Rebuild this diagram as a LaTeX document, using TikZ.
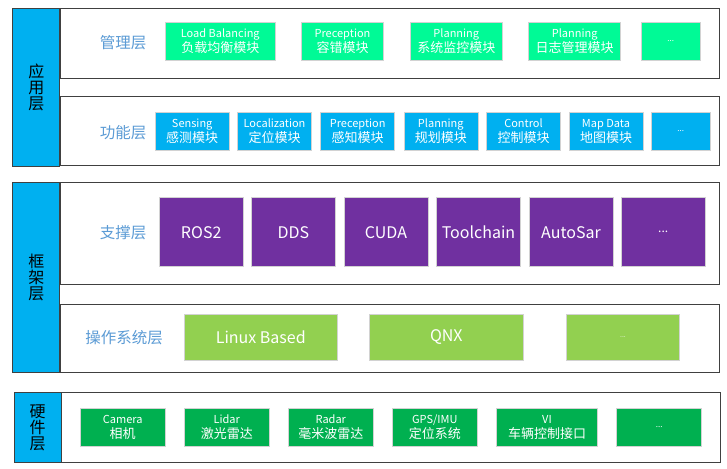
\documentclass[tikz,border=0pt]{standalone}
\usepackage{fontspec}
\setmainfont{Noto Sans CJK SC}
\usepackage{tikz}
\usetikzlibrary{positioning}
\definecolor{skyblue}{RGB}{0, 176, 240}
\definecolor{mintgreen}{RGB}{0, 250, 150}
\definecolor{royalpurple}{RGB}{112, 48, 160}
\definecolor{limegreen}{RGB}{146, 208, 80}
\definecolor{leafgreen}{RGB}{0, 176, 80}
\definecolor{labelblue}{RGB}{91, 155, 213}
\definecolor{frameline}{RGB}{64, 64, 64}
\newcommand{\cnline}[1]{{\fontsize{13}{16}\selectfont #1}}
\tikzset{
  layerbox/.style={draw=frameline, line width=1pt, fill=white, inner sep=0pt},
  sidebar/.style={draw=frameline, line width=1pt, fill=skyblue, inner sep=0pt,
    minimum width=47pt, align=center, font=\fontsize{16}{16}\selectfont},
  layerlabel/.style={text=labelblue, font=\fontsize{15.5}{16}\selectfont},
  module/.style={draw=gray!35, line width=0.6pt, inner sep=0pt, text=white,
    align=center, font=\fontsize{11}{15}\selectfont},
  mgmtmod/.style={module, fill=mintgreen, minimum height=37.7pt},
  funcmod/.style={module, fill=skyblue, minimum width=74pt, minimum height=37.3pt},
  suppmod/.style={module, fill=royalpurple, minimum width=84pt, minimum height=69pt,
    font=\fontsize{16}{18}\selectfont},
  osmod/.style={module, fill=limegreen, minimum height=46pt,
    font=\fontsize{16}{18}\selectfont},
  hwmod/.style={module, fill=leafgreen, minimum width=85pt, minimum height=37.6pt}
}

\begin{document}
\begin{tikzpicture}[x=1pt, y=-1pt]
  % Frame to fix the page size
  \useasboundingbox (0,0) rectangle (727,468);

  % Layer boxes
  \node[layerbox, minimum width=659pt, minimum height=69.7pt] (mgmt)   at (389.5, 43.2)  {};
  \node[layerbox, minimum width=659pt, minimum height=69.3pt] (func)   at (389.5, 131.3) {};
  \node[layerbox, minimum width=659pt, minimum height=102pt]  (supp)   at (389.7, 233.3) {};
  \node[layerbox, minimum width=659pt, minimum height=68pt]   (os)     at (389.5, 338)   {};
  \node[layerbox, minimum width=659pt, minimum height=69.6pt] (hwbox)  at (391, 427.5)   {};

  % Side bars
  \node[sidebar, minimum height=157.7pt] (app)   at (36.3, 87.2)  {应\\用\\层};
  \node[sidebar, minimum height=189.7pt] (frame) at (36.3, 277.2) {框\\架\\层};
  \node[sidebar, minimum height=69.6pt]  (hw)    at (37.7, 427.5) {硬\\件\\层};

  % Layer labels
  \node[layerlabel] (mgmtlbl) at (123, 43)    {管理层};
  \node[layerlabel] (funclbl) at (123, 132.5) {功能层};
  \node[layerlabel] (supplbl) at (123, 232.3) {支撑层};
  \node[layerlabel] (oslbl)   at (124, 338)   {操作系统层};

  % Management modules
  \node[mgmtmod, minimum width=109.3pt] (loadbal)  at (220.3, 41.2) {Load Balancing\\\cnline{负载均衡模块}};
  \node[mgmtmod, minimum width=81.6pt]  (faulttol) at (342.5, 41.2) {Preception\\\cnline{容错模块}};
  \node[mgmtmod, minimum width=92.7pt]  (sysmon)   at (456.3, 41.2) {Planning\\\cnline{系统监控模块}};
  \node[mgmtmod, minimum width=92pt]    (logmgr)   at (574.7, 41.2) {Planning\\\cnline{日志管理模块}};
  \node[mgmtmod, minimum width=58.3pt, font=\fontsize{8}{10}\selectfont] (mgmtmore) at (670.8, 41.2) {...};

  % Function modules
  \node[funcmod] (sensing)  at (192.2, 131.3) {Sensing\\\cnline{感测模块}};
  \node[funcmod] (localize) at (274.5, 131.3) {Localization\\\cnline{定位模块}};
  \node[funcmod] (percept)  at (357.7, 131.3) {Preception\\\cnline{感知模块}};
  \node[funcmod] (planning) at (440.8, 131.3) {Planning\\\cnline{规划模块}};
  \node[funcmod] (control)  at (523.5, 131.3) {Control\\\cnline{控制模块}};
  \node[funcmod] (mapdata)  at (606, 131.3)   {Map Data\\\cnline{地图模块}};
  \node[funcmod, minimum width=58.7pt, font=\fontsize{8}{10}\selectfont] (funcmore) at (680.7, 131.3) {...};

  % Support modules
  \node[suppmod] (ros)       at (201.2, 232.2) {ROS2};
  \node[suppmod] (dds)       at (293.5, 232.2) {DDS};
  \node[suppmod] (cuda)      at (386, 232.2)   {CUDA};
  \node[suppmod] (toolchain) at (478.5, 232.2) {Toolchain};
  \node[suppmod] (autosar)   at (571, 232.2)   {AutoSar};
  \node[suppmod, font=\fontsize{12}{14}\selectfont] (suppmore) at (663.2, 232.2) {...};

  % Operating systems
  \node[osmod, minimum width=153pt]   (linux)  at (260.8, 337) {Linux Based};
  \node[osmod, minimum width=154pt]   (qnx)    at (446.3, 337) {QNX};
  \node[osmod, minimum width=112.6pt, font=\fontsize{7}{9}\selectfont] (osmore) at (623, 337) {...};

  % Hardware
  \node[hwmod] (camera) at (122.7, 427.5) {Camera\\\cnline{相机}};
  \node[hwmod] (lidar)  at (226.8, 427.5) {Lidar\\\cnline{激光雷达}};
  \node[hwmod] (radar)  at (330.8, 427.5) {Radar\\\cnline{毫米波雷达}};
  \node[hwmod] (gps)    at (434.8, 427.5) {GPS/IMU\\\cnline{定位系统}};
  \node[hwmod, minimum width=101.4pt] (vi) at (547, 427.5) {VI\\\cnline{车辆控制接口}};
  \node[hwmod, font=\fontsize{8}{10}\selectfont] (hwmore) at (659.2, 427.5) {...};
\end{tikzpicture}
\end{document}
